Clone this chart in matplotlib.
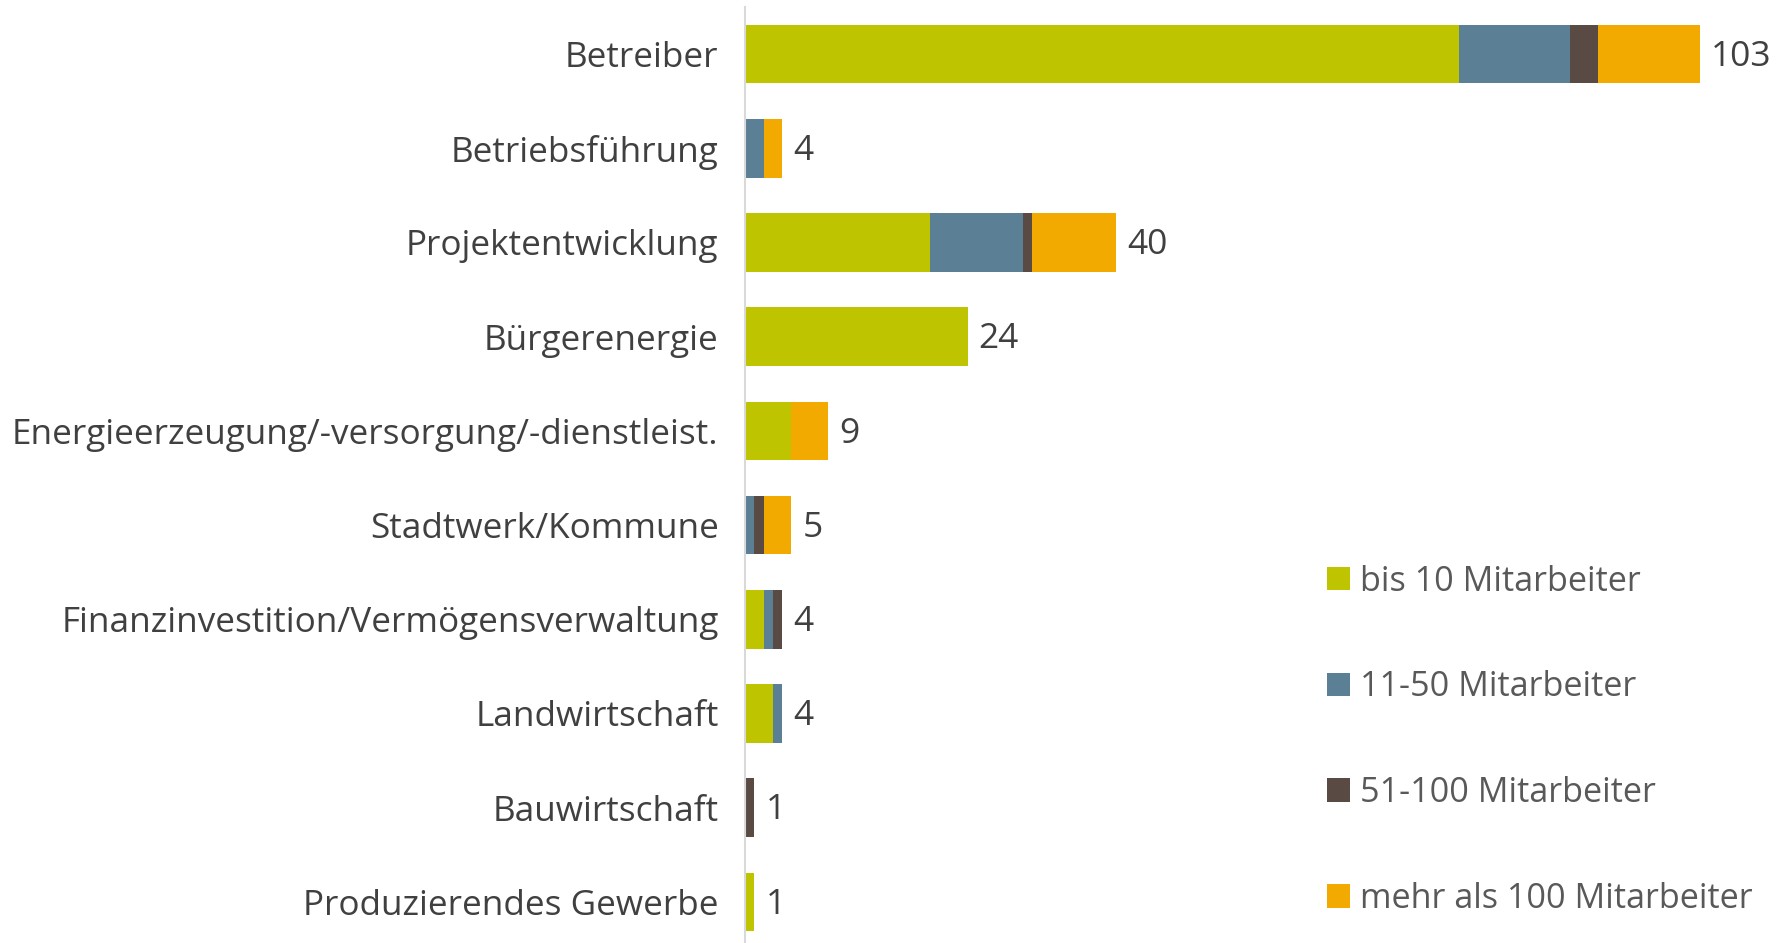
import matplotlib.pyplot as plt
from matplotlib.patches import Patch

categories = ["Betreiber", "Betriebsführung", "Projektentwicklung", "Bürgerenergie",
              "Energieerzeugung/-versorgung/-dienstleist.", "Stadtwerk/Kommune",
              "Finanzinvestition/Vermögensverwaltung", "Landwirtschaft",
              "Bauwirtschaft", "Produzierendes Gewerbe"]
series_names = ["bis 10 Mitarbeiter", "11-50 Mitarbeiter", "51-100 Mitarbeiter",
                "mehr als 100 Mitarbeiter"]
bis10 = [77, 0, 20, 24, 5, 0, 2, 3, 0, 1]
m11_50 = [12, 2, 10, 0, 0, 1, 1, 1, 0, 0]
m51_100 = [3, 0, 1, 0, 0, 1, 1, 0, 1, 0]
mehr100 = [11, 2, 9, 0, 4, 3, 0, 0, 0, 0]
colors = ["#BFC400", "#5B7F95", "#594B44", "#F2A900"]

plt.rcParams['font.family'] = ['Open Sans', 'DejaVu Sans']

fig = plt.figure(figsize=(17.84, 9.43), dpi=100)
ax = fig.add_axes([745 / 1784, -6 / 943, 1 - 745 / 1784, 942 / 943])

ypos = list(range(len(categories)))
left = [0] * len(categories)
for vals, col in zip([bis10, m11_50, m51_100, mehr100], colors):
    ax.barh(ypos, vals, left=left, height=0.62, color=col)
    left = [a + b for a, b in zip(left, vals)]

totals = left
for y, t in zip(ypos, totals):
    ax.annotate(str(t), (t, y), xytext=(8, -2), textcoords="offset points",
                va="center", ha="left", fontsize=25.5, color="#404040")

ax.set_xlim(0, 1039 / (955 / 103))
ax.set_ylim(9.5, -0.5)
ax.set_yticks(ypos)
ax.set_yticklabels(categories, fontsize=25.3, color="#404040")
ax.tick_params(axis="y", length=0, pad=19)
ax.set_xticks([])
for s in ["top", "right", "bottom"]:
    ax.spines[s].set_visible(False)
ax.spines["left"].set_color("#D9D9D9")
ax.spines["left"].set_linewidth(1.5)

handles = [Patch(facecolor=c, label=n) for c, n in zip(colors, series_names)]
fig.legend(handles=handles, loc="upper left", bbox_to_anchor=(1313 / 1784, 1 - 551 / 943),
           frameon=False, fontsize=24.6, labelcolor="#595959", labelspacing=2.1,
           handlelength=0.68, handleheight=0.68, handletextpad=0.3, borderaxespad=0)

fig.savefig("out.png", dpi=100)
